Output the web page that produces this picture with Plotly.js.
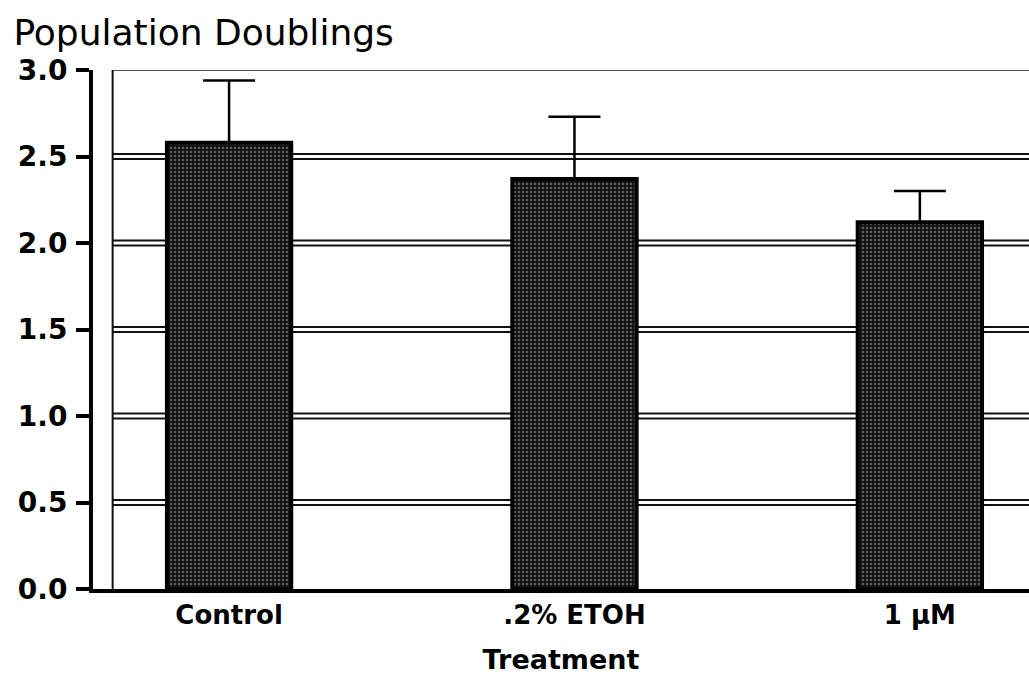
<!DOCTYPE html>
<html>
<head>
<meta charset="utf-8">
<script src="https://cdn.plot.ly/plotly-3.0.1.min.js"></script>
<style>html,body{margin:0;padding:0;background:#fff;}#chart{width:1029px;height:681px;}</style>
</head>
<body>
<div id="chart"></div>
<script>
// Data
const categories = ["Control", ".2% ETOH", "1 µM"];
const doublings = [2.58, 2.37, 2.12];
const errUpper = [0.36, 0.36, 0.18];
const yTicks = [0.0, 0.5, 1.0, 1.5, 2.0, 2.5, 3.0];
const yTickLabels = ["0.0", "0.5", "1.0", "1.5", "2.0", "2.5", "3.0"];
const gridTicks = [0.5, 1.0, 1.5, 2.0, 2.5];

const FONT = "DejaVu Sans, Liberation Sans, sans-serif";
const innerLeft = 0.021;

const shapes = [];
gridTicks.forEach(v => {
  [-2.5, 2.5].forEach(off => {
    shapes.push({type: 'line', layer: 'below', xref: 'paper', yref: 'y',
      ysizemode: 'pixel', yanchor: v, x0: innerLeft, x1: 1, y0: off, y1: off,
      line: {color: '#111', width: 2}});
  });
});
shapes.push({type: 'line', layer: 'below', xref: 'paper', yref: 'y',
  x0: innerLeft, x1: 1, y0: 3.0, y1: 3.0, line: {color: '#555', width: 2}});
shapes.push({type: 'line', layer: 'below', xref: 'paper', yref: 'y',
  x0: innerLeft, x1: innerLeft, y0: 0, y1: 3.0, line: {color: '#111', width: 2}});

const trace = {
  type: 'bar',
  x: [0, 1, 2],
  y: doublings,
  width: 0.36,
  marker: {
    color: '#1c1c1c',
    line: {color: '#000', width: 4},
    pattern: {shape: '.', fillmode: 'replace', bgcolor: '#121212', fgcolor: '#5e5e5e', size: 4, solidity: 0.3}
  },
  error_y: {type: 'data', symmetric: false, array: errUpper, arrayminus: [0, 0, 0],
    color: '#000', thickness: 2.5, width: 26},
  hoverinfo: 'none'
};

const layout = {
  width: 1029, height: 681,
  margin: {l: 93, r: 0, t: 70, b: 92, pad: 0},
  paper_bgcolor: '#fff', plot_bgcolor: '#fff',
  showlegend: false,
  font: {family: FONT, color: '#000'},
  title: {text: 'Population Doublings', font: {family: FONT, size: 36, color: '#000'},
    xref: 'container', yref: 'container', x: 0.013, xanchor: 'left', y: 0.953, yanchor: 'middle'},
  xaxis: {
    range: [-0.394, 2.316],
    tickmode: 'array', tickvals: [0, 1, 2], ticktext: categories,
    ticks: '', showgrid: false, zeroline: false,
    showline: true, linecolor: '#000', linewidth: 4,
    tickfont: {family: FONT, size: 26, color: '#000', weight: 'bold'},
    title: {text: 'Treatment', font: {family: FONT, size: 27, color: '#000', weight: 'bold'}, standoff: 22}
  },
  yaxis: {
    range: [0, 3.0],
    tickmode: 'array', tickvals: yTicks, ticktext: yTickLabels,
    ticks: 'outside', ticklen: 13, tickwidth: 4, tickcolor: '#000',
    ticklabelstandoff: 3,
    showgrid: false, zeroline: false,
    showline: true, linecolor: '#000', linewidth: 4,
    tickfont: {family: FONT, size: 28, color: '#000', weight: 'bold'}
  },
  shapes: shapes
};

Plotly.newPlot('chart', [trace], layout, {displayModeBar: false, staticPlot: true});
</script>
</body>
</html>
